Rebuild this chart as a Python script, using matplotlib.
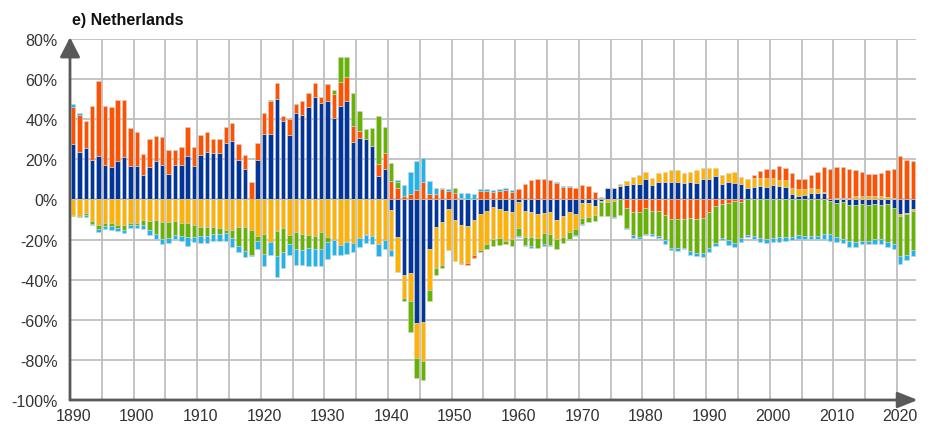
import matplotlib
matplotlib.use("Agg")
import matplotlib.pyplot as plt
import numpy as np

years = list(range(1890, 2023))

# Five components (percent), stacked; signed values
blue = [27.5, 23.7, 25.7, 19.8, 21.8, 17.3, 16.0, 19.2, 21.0, 16.7,
        16.7, 12.0, 16.0, 19.2, 17.3, 12.8, 17.3, 17.3, 21.8, 16.7,
        22.3, 23.7, 23.0, 23.0, 28.0, 29.3, 19.7, 15.3, 0.0, 19.7,
        32.7, 32.7, 50.0, 39.2, 32.0, 43.0, 42.2, 46.0, 51.3, 48.0,
        49.3, 40.8, 46.8, 49.3, 28.8, 30.8, 30.1, 26.8, 11.6, 15.1,
        -5.3, -18.6, -37.7, -36.9, -61.8, -61.3, -24.9, -13.6, -11.1, -4.8,
        -10.3, -12.8, -13.1, -10.3, -7.1, -5.8, -4.0, -4.7, -5.8, -6.5,
        -1.2, -5.7, -6.5, -7.3, -6.6, -6.5, -10.3, -8.1, -6.5, -7.5,
        -1.7, -2.0, -3.2, -0.8, 5.8, 5.8, 6.8, 7.1, 7.6, 7.6,
        10.1, 7.1, 8.8, 8.8, 8.8, 8.8, 8.3, 8.8, 8.3, 10.1,
        10.1, 11.6, 7.6, 8.5, 8.3, 7.6, 5.8, 6.3, 6.6, 6.3,
        7.1, 6.6, 6.3, 2.7, 1.8, 2.2, 3.3, 3.3, 3.0, -1.0,
        -2.0, -1.2, -2.8, -2.8, -2.5, -2.8, -2.5, -2.8, -2.5, -4.5,
        -7.5, -7.0, -5.0]

yellow = [-7.8, -8.3, -7.0, -10.8, -12.8, -11.7, -11.7, -12.8, -12.8, -11.7,
          -11.7, -10.0, -10.8, -10.3, -11.2, -11.2, -10.5, -11.5, -11.5, -12.8,
          -13.5, -13.5, -13.5, -14.2, -15.0, -15.0, -13.7, -13.7, -15.0, -18.2,
          -17.0, -21.2, -15.5, -14.2, -17.8, -16.2, -17.3, -17.8, -18.2, -16.2,
          -18.7, -20.3, -22.5, -21.2, -21.6, -19.1, -17.0, -18.1, -22.4, -20.3,
          -20.0, -17.8, -11.6, -13.8, -17.1, -19.3, -20.3, -20.8, -21.6, -20.6,
          -20.4, -18.8, -18.8, -17.5, -18.1, -16.5, -15.5, -14.5, -14.8, -13.3,
          -13.0, -13.0, -12.1, -12.1, -10.3, -10.5, -9.5, -10.5, -9.6, -7.3,
          -7.8, -6.6, -4.7, -0.7, -1.2, -0.8, 0.7, 2.3, 3.7, 4.5,
          3.7, 3.7, 4.2, 4.7, 5.8, 5.8, 5.0, 5.0, 6.6, 5.7,
          5.7, 4.2, 4.5, 4.8, 5.5, 3.7, 4.2, 4.5, 4.2, 4.2,
          3.7, 3.0, 3.3, 3.2, 3.3, 3.0, 2.5, 1.7, 0.5, 0.0,
          0.5, 0.5, 0.8, 1.7, 1.7, 1.7, 1.7, 1.7, 1.0, 0.5,
          -0.7, -0.5, -0.7]

orange = [18.7, 18.5, 13.3, 27.0, 37.3, 29.5, 30.0, 30.3, 28.5, 18.7,
          16.7, 10.8, 14.2, 12.2, 14.0, 12.0, 7.5, 8.8, 14.2, 9.5,
          9.7, 9.7, 7.0, 7.0, 8.3, 9.0, 7.7, 7.0, 8.8, 8.3,
          10.3, 16.5, 8.3, 2.5, 8.2, 4.5, 7.0, 7.0, 7.0, 3.3,
          8.2, 11.8, 12.0, 12.0, 8.0, 3.3, -0.5, 0.0, 6.3, 8.3,
          9.1, 5.8, 1.8, 2.5, 4.7, 8.8, 2.5, 2.5, 5.0, 4.3,
          3.0, -0.7, -0.8, -1.2, 4.3, 4.3, 3.8, 4.3, 4.8, 3.8,
          5.2, 7.8, 9.6, 10.1, 10.1, 9.6, 8.1, 6.1, 6.1, 5.8,
          7.1, 6.8, 3.8, 0.8, 0.0, 0.0, 0.0, -4.5, -6.1, -6.5,
          -4.5, -5.8, -5.8, -7.8, -9.8, -9.8, -9.8, -9.5, -9.8, -9.1,
          -6.1, -3.2, -2.3, -2.0, -0.8, -1.2, 0.0, 1.3, 3.3, 4.7,
          4.3, 7.0, 6.3, 7.1, 5.0, 5.0, 6.3, 8.8, 12.5, 15.1,
          15.5, 15.5, 14.6, 13.0, 11.8, 10.8, 11.0, 11.6, 13.6, 14.6,
          21.8, 19.6, 19.1]

green = [-0.5, -0.7, -0.8, -1.5, -1.7, -1.5, -1.7, -1.3, -2.2, -1.2,
         -1.2, -2.8, -4.5, -7.0, -8.7, -8.0, -7.0, -6.7, -7.3, -6.0,
         -4.8, -4.7, -3.8, -3.2, -1.7, -4.2, -9.5, -12.0, -12.8, -2.3,
         -10.0, 0.5, -12.8, -12.0, -4.2, -8.3, -7.7, -6.2, -6.3, -8.3,
         -2.5, 1.8, 12.2, 9.7, 16.5, 10.0, 5.0, 9.0, 23.6, 12.8,
         9.3, 3.0, -1.3, -15.3, -10.0, -9.5, -5.5, -3.3, -1.3, 0.0,
         2.5, 0.7, 0.0, 0.0, -0.8, -2.5, -3.5, -3.3, -1.8, -3.3,
         -4.0, -3.8, -4.7, -5.0, -5.5, -5.5, -5.0, -3.0, -3.7, -2.7,
         -2.5, -2.8, -3.0, -6.6, -7.0, -7.8, -8.0, -9.5, -11.6, -12.1,
         -12.5, -11.6, -12.3, -12.5, -14.3, -14.3, -14.3, -16.3, -17.1, -17.8,
         -18.0, -18.3, -16.8, -18.3, -21.1, -18.0, -17.5, -18.1, -19.1, -19.5,
         -19.1, -18.6, -18.6, -18.6, -17.5, -18.1, -18.1, -18.1, -17.3, -16.3,
         -16.6, -18.3, -18.0, -18.6, -18.1, -17.8, -17.3, -17.0, -18.6, -17.5,
         -20.0, -20.0, -19.3]

lightblue = [1.3, 0.7, -1.0, -0.5, -1.7, -1.7, -2.0, -1.8, -1.7, -1.2,
             -1.3, -2.0, -2.5, -2.5, -2.3, -2.5, -2.3, -2.3, -4.2, -2.5,
             -3.3, -3.5, -3.3, -3.2, -3.8, -4.5, -3.0, -3.2, -0.5, -4.0,
             -6.3, -6.3, -10.3, -8.0, -5.8, -8.3, -7.8, -9.2, -8.8, -8.8,
             -8.3, -7.2, -5.3, -5.8, -4.5, -4.5, -4.3, -4.3, -5.7, -4.2,
             -2.8, 0.8, 5.3, 11.0, 14.5, 12.1, 6.7, 3.3, 0.8, 0.7,
             0.0, 2.5, 3.3, 2.5, 0.7, 0.7, 0.7, 0.8, 0.7, 0.7,
             -0.7, -0.7, -0.7, 0.0, -0.7, -0.7, 0.7, 0.7, 0.7, -0.7,
             -0.8, 0.0, 0.0, 0.5, 0.0, -0.5, 0.0, -0.7, -1.3, -1.2,
             -0.8, -0.7, -1.0, -1.7, -1.2, -1.7, -0.8, -1.7, -1.2, -2.0,
             -2.0, -1.7, -1.2, -2.2, -1.7, -2.0, -1.2, -1.7, -2.0, -2.2,
             -2.0, -2.5, -2.2, -1.7, -2.0, -1.7, -1.7, -1.7, -2.5, -3.5,
             -2.5, -2.2, -2.8, -2.2, -1.8, -1.8, -2.2, -2.2, -2.8, -2.5,
             -3.8, -2.8, -3.2]

x_tick_labels = [str(y) for y in range(1890, 2021, 10)]
y_ticks = list(range(-100, 81, 20))

series = [blue, yellow, orange, green, lightblue]
colors = ["#00359C", "#FFB300", "#FF5200", "#66B300", "#1EB5EA"]

W, H = 931, 431
fig = plt.figure(figsize=(W / 100, H / 100), dpi=100)
ax = fig.add_axes([70 / W, (H - 401) / H, 846 / W, 361 / H])

n = len(years)
xpos = np.arange(n)
pos_bottom = np.zeros(n)
neg_bottom = np.zeros(n)
for vals, c in zip(series, colors):
    v = np.array(vals, dtype=float)
    bottoms = np.where(v >= 0, pos_bottom, neg_bottom)
    ax.bar(xpos, v, bottom=bottoms, width=0.7, color=c,
           edgecolor="#d4d4d4", linewidth=0.4, zorder=3)
    pos_bottom = pos_bottom + np.where(v > 0, v, 0)
    neg_bottom = neg_bottom + np.where(v < 0, v, 0)

ax.set_xlim(-0.5, n - 0.5)
ax.set_ylim(-100, 80)

# grid
for gx in np.arange(4.5, n - 1, 5):
    ax.axvline(gx, color="#BFBFBF", lw=1.3, zorder=1)
for gy in y_ticks[1:]:
    ax.axhline(gy, color="#BFBFBF", lw=1.3, zorder=1)

for s in ax.spines.values():
    s.set_visible(False)

ax.set_xticks(np.arange(0, n, 10)[:len(x_tick_labels)])
ax.set_xticklabels(x_tick_labels)
ax.set_yticks(y_ticks)
ax.set_yticklabels([f"{t}%" for t in y_ticks])
ax.tick_params(axis="both", length=0, labelsize=11.5, labelcolor="#333333")
ax.tick_params(axis="x", pad=6)
ax.tick_params(axis="y", pad=9)
for lab in ax.get_xticklabels() + ax.get_yticklabels():
    lab.set_fontfamily("Liberation Sans")

# axes with arrows
axis_col = "#595959"
ax.annotate("", xy=(0, 1.005), xytext=(0, 0), xycoords="axes fraction",
            arrowprops=dict(arrowstyle="-|>,head_length=0.55,head_width=0.28",
                            mutation_scale=22, lw=2, color=axis_col,
                            shrinkA=0, shrinkB=0), annotation_clip=False, zorder=5)
ax.annotate("", xy=(1.002, 0), xytext=(0, 0), xycoords="axes fraction",
            arrowprops=dict(arrowstyle="-|>,head_length=0.55,head_width=0.22",
                            mutation_scale=22, lw=2, color=axis_col,
                            shrinkA=0, shrinkB=0), annotation_clip=False, zorder=5)

fig.text(72 / W, 1 - 20.5 / H, "e) Netherlands", fontsize=11.5, fontweight="bold",
         family="Liberation Sans", va="center", ha="left", color="#111111")

fig.savefig("out.png", dpi=100)
